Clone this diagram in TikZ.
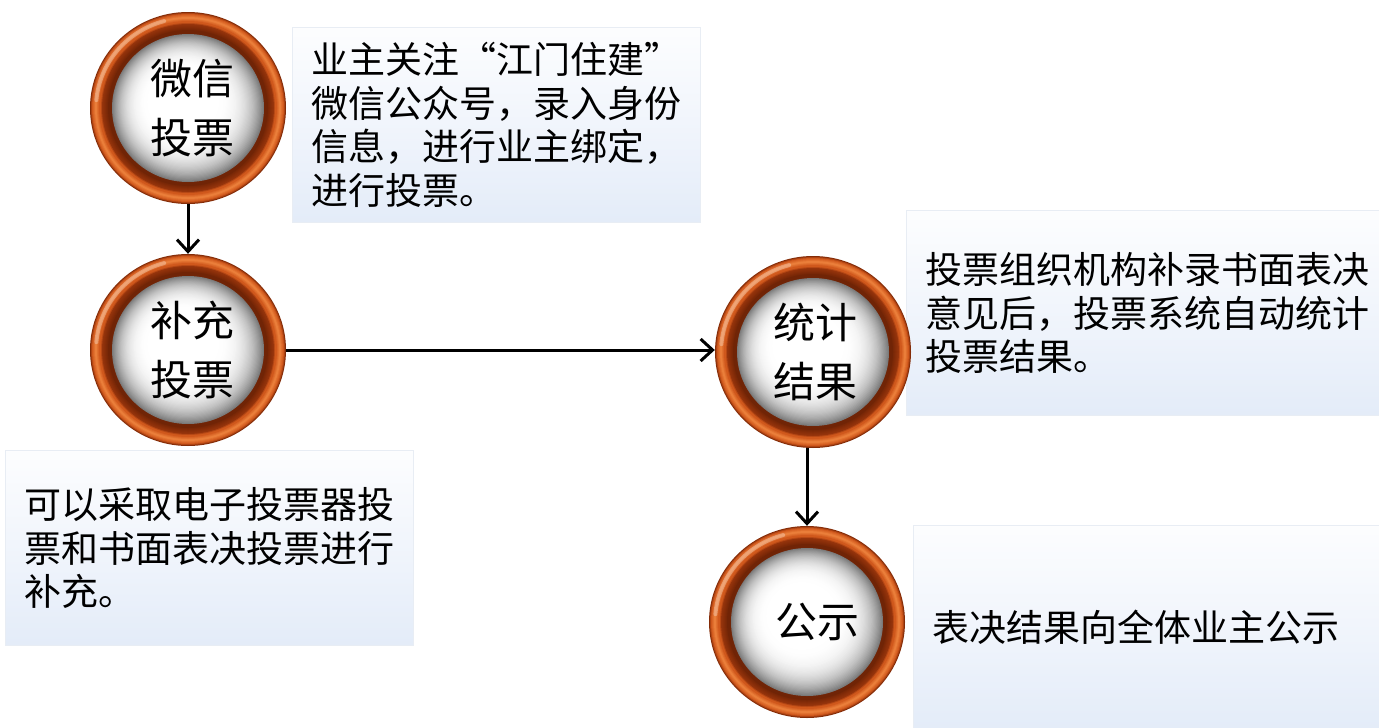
\documentclass[tikz,border=0pt]{standalone}
\usepackage{fontspec}
\setmainfont{Noto Sans CJK SC}
\usetikzlibrary{shapes.geometric,arrows.meta}
\definecolor{boxB}{RGB}{214,227,245}
\definecolor{boxM}{RGB}{238,243,251}
\definecolor{boxLine}{RGB}{232,237,244}
\definecolor{ringIn}{RGB}{112,36,6}
\definecolor{ringDk}{RGB}{150,52,12}
\definecolor{ringMid}{RGB}{208,88,28}
\definecolor{ringHi}{RGB}{234,126,58}
\definecolor{ringOut}{RGB}{132,44,8}
\pgfdeclareverticalshading{boxsh}{100bp}{color(0bp)=(boxB); color(45bp)=(boxM); color(80bp)=(white); color(100bp)=(white)}
\tikzset{
  ringball/.pic={
    \foreach \r/\c in {98/ringOut, 97/ringOut!45!ringMid, 96/ringMid, 95/ringMid!65!ringHi, 94/ringMid!35!ringHi, 93/ringHi, 92/ringHi, 91/ringHi!65!ringMid, 90/ringHi!35!ringMid, 89/ringMid, 88/ringMid, 87/ringMid!55!ringDk, 86/ringDk, 85/ringDk!85!ringIn, 84/ringDk!70!ringIn, 83/ringDk!55!ringIn, 82/ringDk!40!ringIn, 81/ringDk!25!ringIn, 80/ringIn}
      {\fill[\c] (0,0) ellipse [x radius=\r pt, y radius={\r pt - 2pt}];}
    \draw[white, opacity=0.3, line width=4pt, line cap=round]
      ({92*cos(105)},{90*sin(105)}) arc [start angle=105, end angle=175, x radius=92pt, y radius=90pt];
    \foreach \k in {0,1,...,46}{
      \pgfmathsetmacro\g{52*(1-\k/46)*(1-\k/46)*(1-\k/46)}
      \fill[black!\g] ({-0.12*\k},{0.15*\k}) ellipse [x radius={(76-\k)*1pt}, y radius={(74-\k)*1pt}];
    }
  },
  circ/.style={ellipse, minimum width=196pt, minimum height=192pt, inner sep=0pt, align=center, font=\fontsize{42}{59}\selectfont},
  infobox/.style={rectangle, shade, shading=boxsh, draw=boxLine, line width=1pt, anchor=north west, inner xsep=19pt, inner ysep=0pt, align=left, font=\fontsize{37}{43.5}\selectfont},
  flow/.style={line width=3pt, -{Straight Barb[length=12pt, width=22pt, line width=3pt]}}
}
\begin{document}
\begin{tikzpicture}[x=1pt, y=1pt]
\useasboundingbox (0,0) rectangle (1379,-728);
\fill[white] (0,0) rectangle (1379,-728);
% info boxes
\node[infobox, minimum height=195pt, text width=370pt] (d1) at (292,-27) {业主关注“江门住建”\\微信公众号，录入身份\\信息，进行业主绑定，\\进行投票。};
\node[infobox, minimum height=195pt, text width=370pt] (d2) at (5,-450) {可以采取电子投票器投\\票和书面表决投票进行\\补充。};
\node[infobox, minimum height=205pt, text width=435pt] (d3) at (906,-210) {投票组织机构补录书面表决\\意见后，投票系统自动统计\\投票结果。};
\node[infobox, minimum height=203pt, text width=428pt] (d4) at (913,-525) {表决结果向全体业主公示};
% circles
\pic at (188,-108) {ringball};
\pic at (188,-350) {ringball};
\pic at (813,-352) {ringball};
\pic at (807,-622) {ringball};
\node[circ] (w) at (188,-108) {\hspace*{8pt}微信\\\hspace*{8pt}投票};
\node[circ] (b) at (188,-350) {\hspace*{8pt}补充\\\hspace*{8pt}投票};
\node[circ] (s) at (813,-352) {\hspace*{4pt}统计\\\hspace*{4pt}结果};
\node[circ] (g) at (807,-622) {\hspace*{20pt}公示};
% connectors
\draw[flow] (w.south) -- (b.north);
\draw[flow] (b.east) -- (b.east -| s.west);
\draw[flow] (s.south -| g.north) -- (g.north);
\end{tikzpicture}
\end{document}
